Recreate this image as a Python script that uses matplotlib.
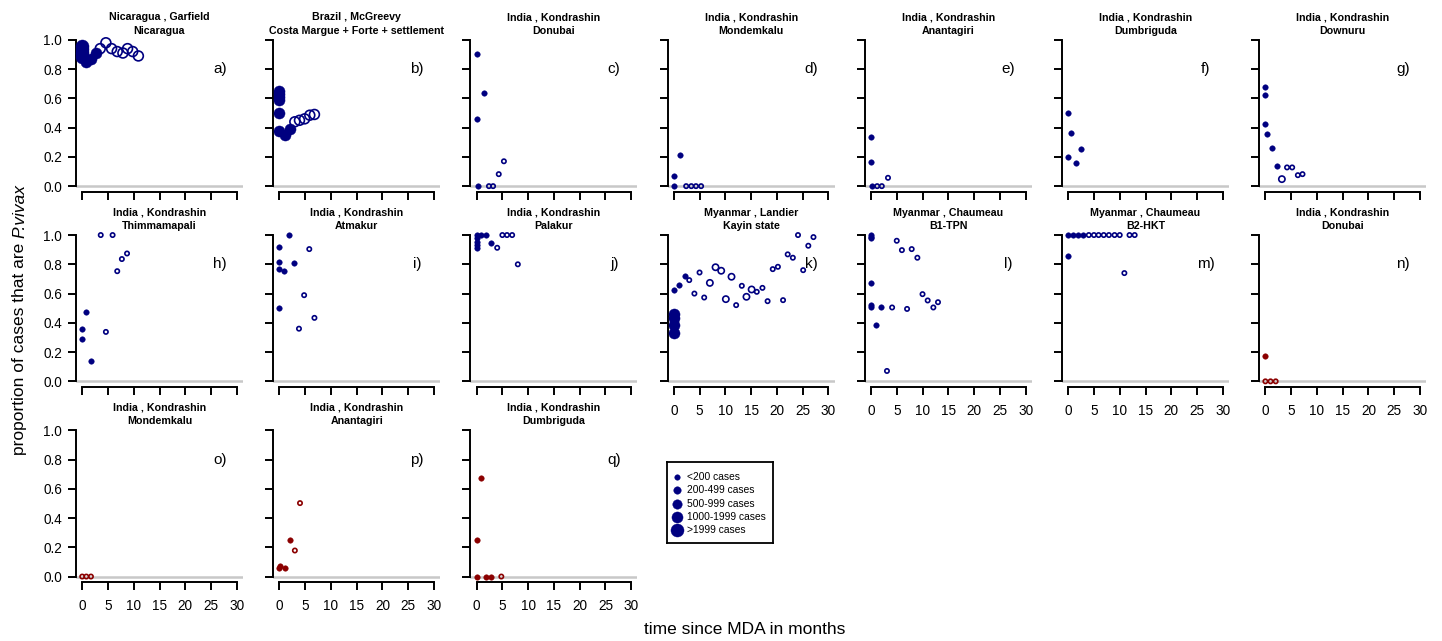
import matplotlib
matplotlib.use('Agg')
import matplotlib.pyplot as plt
from matplotlib.transforms import offset_copy

plt.rcParams['font.family'] = ['Liberation Sans', 'DejaVu Sans']

NAVY = '#000080'
DRED = '#8B0000'

# ---------------- data ----------------
panel_letters = list('abcdefghijklmnopq')
line1 = ['Nicaragua , Garfield', 'Brazil , McGreevy', 'India , Kondrashin', 'India , Kondrashin',
         'India , Kondrashin', 'India , Kondrashin', 'India , Kondrashin', 'India , Kondrashin',
         'India , Kondrashin', 'India , Kondrashin', 'Myanmar , Landier', 'Myanmar , Chaumeau',
         'Myanmar , Chaumeau', 'India , Kondrashin', 'India , Kondrashin', 'India , Kondrashin',
         'India , Kondrashin']
line2 = ['Nicaragua', 'Costa Margue + Forte + settlement', 'Donubai', 'Mondemkalu', 'Anantagiri',
         'Dumbriguda', 'Downuru', 'Thimmamapali', 'Atmakur', 'Palakur', 'Kayin state', 'B1-TPN',
         'B2-HKT', 'Donubai', 'Mondemkalu', 'Anantagiri', 'Dumbriguda']
red_panels = ['n', 'o', 'p', 'q']

a_x = [0, 0, 0, 0, 0, 0.7, 1.7, 2.7, 3.5, 4.6, 5.7, 6.8, 7.9, 8.8, 9.8, 10.9]
a_y = [0.96, 0.94, 0.92, 0.90, 0.88, 0.85, 0.87, 0.91, 0.94, 0.98, 0.94, 0.92, 0.91, 0.94, 0.92, 0.89]
a_f = [1, 1, 1, 1, 1, 1, 1, 1, 0, 0, 0, 0, 0, 0, 0, 0]
a_s = [5, 5, 5, 5, 5, 4, 4, 4, 4, 4, 4, 4, 4, 4, 4, 4]

b_x = [0, 0, 0, 0, 0, 0, 1.0, 2.0, 3.0, 3.9, 4.9, 5.9, 6.8]
b_y = [0.65, 0.63, 0.61, 0.59, 0.50, 0.38, 0.35, 0.39, 0.44, 0.45, 0.46, 0.485, 0.49]
b_f = [1, 1, 1, 1, 1, 1, 1, 1, 0, 0, 0, 0, 0]
b_s = [4, 4, 4, 4, 4, 4, 4, 4, 4, 4, 4, 4, 4]

c_x = [0, 0, 1.4, 0.3, 2.4, 3.2, 4.3, 5.3]
c_y = [0.90, 0.457, 0.64, 0, 0, 0, 0.082, 0.17]
c_f = [1, 1, 1, 1, 0, 0, 0, 0]
c_s = [1, 1, 1, 1, 1, 1, 1, 1]

d_x = [0, 1.3, 0.1, 2.4, 3.4, 4.3, 5.3]
d_y = [0.068, 0.21, 0, 0, 0, 0, 0]
d_f = [1, 1, 1, 0, 0, 0, 0]
d_s = [1, 1, 1, 1, 1, 1, 1]

e_x = [0, 0, 0.2, 1.2, 2.1, 3.3]
e_y = [0.338, 0.167, 0, 0, 0, 0.057]
e_f = [1, 1, 1, 0, 0, 0]
e_s = [1, 1, 1, 1, 1, 1]

f_x = [0, 0.6, 0, 1.5, 2.5]
f_y = [0.502, 0.365, 0.20, 0.155, 0.253]
f_f = [1, 1, 1, 1, 1]
f_s = [1, 1, 1, 1, 1]

g_x = [0, 0, 0, 0.3, 1.3, 2.3, 3.2, 4.2, 5.2, 6.3, 7.2]
g_y = [0.676, 0.623, 0.422, 0.356, 0.258, 0.139, 0.048, 0.128, 0.128, 0.075, 0.082]
g_f = [1, 1, 1, 1, 1, 1, 0, 0, 0, 0, 0]
g_s = [1, 1, 1, 1, 1, 1, 2, 1, 1, 1, 1]

h_x = [0, 0, 0.7, 1.7, 3.6, 4.6, 5.9, 6.8, 7.7, 8.7]
h_y = [0.36, 0.288, 0.473, 0.142, 1.0, 0.338, 1.0, 0.753, 0.836, 0.874]
h_f = [1, 1, 1, 1, 0, 0, 0, 0, 0, 0]
h_s = [1, 1, 1, 1, 1, 1, 1, 1, 1, 1]

i_x = [0, 0, 0, 0.8, 1.8, 2.8, 0, 3.8, 4.8, 5.8, 6.8]
i_y = [0.915, 0.817, 0.767, 0.753, 1.0, 0.81, 0.502, 0.36, 0.589, 0.904, 0.434]
i_f = [1, 1, 1, 1, 1, 1, 1, 0, 0, 0, 0]
i_s = [1, 1, 1, 1, 1, 1, 1, 1, 1, 1, 1]

j_x = [0, 0, 0, 0, 0, 0.9, 1.9, 2.8, 4.0, 5.0, 5.9, 6.9, 8.0]
j_y = [1.0, 0.98, 0.955, 0.93, 0.91, 1.0, 1.0, 0.947, 0.913, 1.0, 1.0, 1.0, 0.80]
j_f = [1, 1, 1, 1, 1, 1, 1, 1, 0, 0, 0, 0, 0]
j_s = [1, 1, 1, 1, 1, 1, 1, 1, 1, 1, 1, 1, 1]

k_x = [0, 0, 0, 0, 0, 1.1, 2.1, 3.0, 4.0, 5.0, 5.9, 7.0, 8.1, 9.2, 10.1, 11.2, 12.1, 13.2,
       14.1, 15.1, 16.1, 17.2, 18.2, 19.2, 20.2, 21.2, 22.1, 23.1, 24.1, 25.1, 26.1, 27.1]
k_y = [0.457, 0.43, 0.384, 0.333, 0.623, 0.658, 0.719, 0.692, 0.60, 0.744, 0.573, 0.673, 0.78,
       0.756, 0.562, 0.715, 0.521, 0.653, 0.578, 0.628, 0.612, 0.639, 0.548, 0.767, 0.783,
       0.555, 0.868, 0.845, 1.0, 0.76, 0.927, 0.986]
k_f = [1, 1, 1, 1, 1, 1, 1] + [0] * 25
k_s = [4, 4, 4, 4, 1, 1, 1, 1, 1, 1, 1, 2, 2, 2, 2, 2, 1, 1, 2, 2,
       1, 1, 1, 1, 1, 1, 1, 1, 1, 1, 1, 1]

l_x = [0, 0, 0, 0, 0, 0, 1.0, 2.0, 3.1, 4.1, 5.0, 6.0, 7.0, 7.9, 9.0, 10.0, 11.0, 12.1, 13.0]
l_y = [1.0, 0.99, 0.98, 0.669, 0.52, 0.505, 0.384, 0.505, 0.071, 0.505, 0.961, 0.897, 0.495,
       0.904, 0.845, 0.596, 0.553, 0.505, 0.541]
l_f = [1, 1, 1, 1, 1, 1, 1, 1] + [0] * 11
l_s = [1] * 19

m_x = [0, 1.0, 1.9, 2.9, 0, 4.0, 5.0, 5.9, 6.9, 7.9, 9.0, 10.0, 10.9, 11.9, 12.9]
m_y = [1, 1, 1, 1, 0.856, 1, 1, 1, 1, 1, 1, 1, 0.74, 1, 1]
m_f = [1, 1, 1, 1, 1] + [0] * 10
m_s = [1] * 15

n_x = [0, 0, 1.0, 2.0]
n_y = [0.174, 0, 0, 0]
n_f = [1, 0, 0, 0]
n_s = [1, 1, 1, 1]

o_x = [0, 0.8, 1.7]
o_y = [0, 0, 0]
o_f = [0, 0, 0]
o_s = [1, 1, 1]

p_x = [0, 0.2, 1.1, 2.1, 3.0, 4.0]
p_y = [0.057, 0.071, 0.057, 0.247, 0.178, 0.502]
p_f = [1, 1, 1, 1, 0, 0]
p_s = [1, 1, 1, 1, 1, 1]

q_x = [0.9, 0, 0, 1.9, 2.8, 4.8]
q_y = [0.674, 0.253, 0, 0, 0, 0]
q_f = [1, 1, 1, 1, 1, 0]
q_s = [1, 1, 1, 1, 1, 1]

legend_labels = ['<200 cases', '200-499 cases', '500-999 cases', '1000-1999 cases', '>1999 cases']
x_ticks = [0, 5, 10, 15, 20, 25, 30]
y_ticks = [0.0, 0.2, 0.4, 0.6, 0.8, 1.0]

panels = [(a_x, a_y, a_f, a_s), (b_x, b_y, b_f, b_s), (c_x, c_y, c_f, c_s), (d_x, d_y, d_f, d_s),
          (e_x, e_y, e_f, e_s), (f_x, f_y, f_f, f_s), (g_x, g_y, g_f, g_s), (h_x, h_y, h_f, h_s),
          (i_x, i_y, i_f, i_s), (j_x, j_y, j_f, j_s), (k_x, k_y, k_f, k_s), (l_x, l_y, l_f, l_s),
          (m_x, m_y, m_f, m_s), (n_x, n_y, n_f, n_s), (o_x, o_y, o_f, o_s), (p_x, p_y, p_f, p_s),
          (q_x, q_y, q_f, q_s)]

# ---------------- layout ----------------
W, H = 1442, 641
fig = plt.figure(figsize=(W / 100, H / 100), dpi=100)

# marker diameters in points for the size classes
diam = {1: 4.0, 2: 5.4, 3: 6.8, 4: 8.0, 5: 9.4}
OPEN_LW = 1.2

col_left = [76 + 197.2 * c for c in range(7)]
row_top = [34, 229.2, 424.4]
AW, AH = 167, 158

for idx, (xs, ys, fs, ss) in enumerate(panels):
    r, c = divmod(idx, 7)
    left = col_left[c] / W
    bottom = 1 - (row_top[r] + AH) / H
    ax = fig.add_axes([left, bottom, AW / W, AH / H])
    ax.set_xlim(-1.2, 31.2)
    ax.set_ylim(-0.04, 1.04)
    ax.set_facecolor('none')
    for sp in ['top', 'right']:
        ax.spines[sp].set_visible(False)
    for sp in ['left', 'bottom']:
        ax.spines[sp].set_linewidth(1.4)
        ax.spines[sp].set_color('black')
    ax.spines['left'].set_bounds(0, 1)
    ax.spines['bottom'].set_bounds(0, 30)
    ax.set_xticks(x_ticks)
    ax.set_yticks(y_ticks)
    ax.tick_params(axis='x', direction='out', length=5.5, width=1.4, pad=6.5, labelsize=9.8)
    ax.tick_params(axis='y', direction='out', length=5.5, width=1.4, pad=4.5, labelsize=9.8)
    show_x = (r == 2) or (r == 1 and c >= 3)
    show_y = (c == 0)
    ax.set_xticklabels([str(t) for t in x_ticks] if show_x else [])
    ax.set_yticklabels(['%.1f' % t for t in y_ticks] if show_y else [])
    if not show_x:
        ax.tick_params(axis='x', labelbottom=False)

    ax.axhline(0, color='#C8C8C8', lw=1.8, zorder=1)

    letter = panel_letters[idx]
    col = DRED if letter in red_panels else NAVY
    for x, y, f, s in zip(xs, ys, fs, ss):
        d = diam[s]
        if f:
            ax.scatter([x], [y], s=d ** 2, color=col, edgecolors=col, linewidths=0.3,
                       zorder=3, clip_on=False)
        else:
            ax.scatter([x], [y], s=(d - 0.9) ** 2, facecolors='none', edgecolors=col,
                       linewidths=OPEN_LW, zorder=3, clip_on=False)

    ax.text(26.7, 0.8, letter + ')', ha='center', va='center', fontsize=11)

    t2 = offset_copy(ax.transAxes, fig=fig, x=0, y=0.5, units='dots')
    t1 = offset_copy(ax.transAxes, fig=fig, x=0, y=13.5, units='dots')
    ax.text(0.5, 1.0, line2[idx], transform=t2, ha='center', va='baseline',
            fontsize=7.7, fontweight='bold')
    ax.text(0.5, 1.0, line1[idx], transform=t1, ha='center', va='baseline',
            fontsize=7.7, fontweight='bold')

# legend box drawn in its own axes
lx0, ly0, lx1, ly1 = 667, 462, 773, 543
lax = fig.add_axes([lx0 / W, 1 - ly1 / H, (lx1 - lx0) / W, (ly1 - ly0) / H])
lax.set_xlim(0, 1)
lax.set_ylim(0, 1)
lax.set_xticks([])
lax.set_yticks([])
for sp in lax.spines.values():
    sp.set_linewidth(1.3)
    sp.set_color('black')
row_y = [0.819, 0.651, 0.481, 0.321, 0.16]
for k_, (lab, yy) in enumerate(zip(legend_labels, row_y)):
    d = diam[k_ + 1]
    lax.scatter([0.092], [yy], s=d ** 2, color=NAVY, edgecolors=NAVY, linewidths=0.3)
    lax.text(0.186, yy, lab, ha='left', va='center', fontsize=7.4)

# y label: regular part + italic species name
ylab_x = 20 / W
ylab_bottom = 1 - 455 / H
tA = fig.text(ylab_x, ylab_bottom, 'proportion of cases that are', rotation=90,
              ha='center', va='bottom', fontsize=12.5)
fig.canvas.draw()
ext = tA.get_window_extent()
space_px = 12.5 * 0.278 * 100 / 72
tB = fig.text(ylab_x, (ext.y1 + space_px) / H, 'P.vivax', rotation=90, ha='center',
              va='bottom', fontsize=12.5, style='italic')

fig.text(745 / W, 1 - 630 / H, 'time since MDA in months', ha='center', va='center',
         fontsize=12.5)

fig.savefig('out.png', dpi=100)
